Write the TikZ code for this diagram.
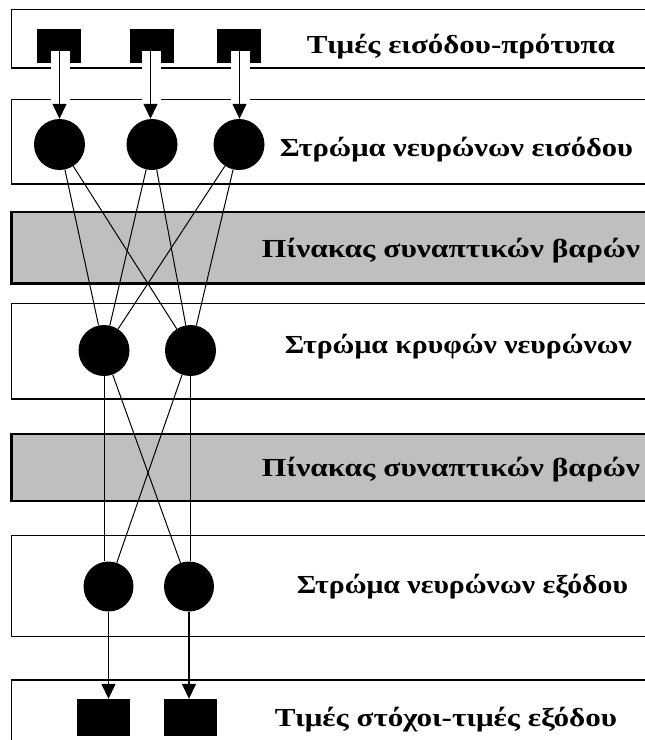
\documentclass[tikz,border=0pt]{standalone}
\usepackage{fontspec}
\setmainfont{Liberation Serif}
\usetikzlibrary{arrows.meta}
\newcommand\fitw[2]{\resizebox{#1}{\height}{#2}}
\begin{document}
\begin{tikzpicture}[x=1pt,y=-1pt,
  layer/.style={draw=black,line width=1.5pt,fill=white},
  weights/.style={draw=black,line width=2.6pt,fill=gray!50!white!50!lightgray},
  neuron/.style={circle,fill=black,inner sep=0pt,minimum size=51pt},
  valbox/.style={rectangle,fill=black,inner sep=0pt},
  conn/.style={line width=1pt},
  arr/.style={line width=1.4pt,-{Triangle[width=14pt,length=15pt]}},
  lbl/.style={anchor=base,inner sep=0pt,font=\fontsize{26}{30}\selectfont\bfseries}]
\useasboundingbox (0,0) rectangle (645,740);
\clip (0,0) rectangle (645,740);
\fill[white] (0,0) rectangle (645,740);
% layers
\path[layer] (11.5,9.5) rectangle (660,68);
\path[layer] (11.5,99.5) rectangle (660,184);
\path[weights] (11.5,212) rectangle (660,283.5);
\path[layer] (11.5,303.5) rectangle (660,399);
\path[weights] (11.5,434) rectangle (660,501);
\path[layer] (11.5,535.5) rectangle (660,636.5);
\path[layer] (11.5,680) rectangle (660,770);
% input value boxes
\node[valbox,minimum width=44pt,minimum height=34pt] (s1) at (59,46) {};
\node[valbox,minimum width=44pt,minimum height=34pt] (s2) at (152,46) {};
\node[valbox,minimum width=44pt,minimum height=34pt] (s3) at (239,46) {};
\fill[white] (51,51) rectangle (70,101);
\fill[white] (141.5,51) rectangle (160.5,101);
\fill[white] (230.5,51) rectangle (249.5,101);
\coordinate (a1) at (59.5,51);
\coordinate (a2) at (150.5,51);
\coordinate (a3) at (239.5,51);
% neurons
\node[neuron] (i1) at (59.5,144.5) {};
\node[neuron] (i2) at (152,144.5) {};
\node[neuron] (i3) at (239,144.5) {};
\node[neuron] (h1) at (104,350.5) {};
\node[neuron] (h2) at (190.5,350.5) {};
\node[neuron,minimum size=50pt] (o1) at (108.5,586.5) {};
\node[neuron,minimum size=50pt] (o2) at (189,586.5) {};
% output value boxes
\node[valbox,minimum width=53pt,minimum height=37pt] (q1) at (103.5,717.5) {};
\node[valbox,minimum width=53pt,minimum height=37pt] (q2) at (190.5,717.5) {};
% arrows in
\draw[arr] (a1) -- (a1 |- i1.north);
\draw[arr] (a2) -- (a2 |- i2.north);
\draw[arr] (a3) -- (a3 |- i3.north);
% input -> hidden
\foreach \i in {i1,i2,i3}{
  \foreach \h in {h1,h2}{
    \draw[conn] (\i) -- (\h);
  }
}
% hidden -> output
\draw[conn] (h1.south) -- (h1.south |- o1.north);
\draw[conn] (h2.south) -- (h2.south |- o2.north);
\draw[conn] (h1) -- (o2);
\draw[conn] (h2) -- (o1);
% arrows out
\draw[arr] (o1.south) -- (o1.south |- q1.north);
\draw[arr] (o2.south) -- (o2.south |- q2.north);
% labels
\node[lbl] (t1) at (461,53) {\fitw{308pt}{Τιμές εισόδου-πρότυπα}};
\node[lbl] (t2) at (456.5,156) {\fitw{353pt}{Στρώμα νευρώνων εισόδου}};
\node[lbl] (t3) at (451,257) {\fitw{378pt}{Πίνακας συναπτικών βαρών}};
\node[lbl] (t4) at (458.5,353) {\fitw{347pt}{Στρώμα κρυφών νευρώνων}};
\node[lbl] (t5) at (451,476) {\fitw{378pt}{Πίνακας συναπτικών βαρών}};
\node[lbl] (t6) at (462.5,593) {\fitw{331pt}{Στρώμα νευρώνων εξόδου}};
\node[lbl] (t7) at (446,726) {\fitw{342pt}{Τιμές στόχοι-τιμές εξόδου}};
\end{tikzpicture}
\end{document}
